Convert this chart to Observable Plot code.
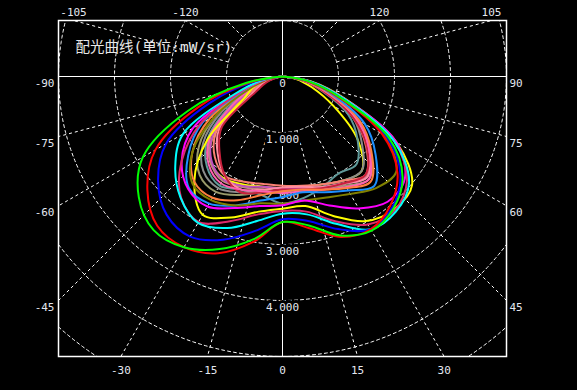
<!DOCTYPE html>
<html><head><meta charset="utf-8">
<script src="https://cdn.jsdelivr.net/npm/d3@7"></script>
<script src="https://cdn.jsdelivr.net/npm/@observablehq/plot@0.6"></script>
<style>html,body{margin:0;padding:0;background:#000;}#chart{width:577px;height:390px;overflow:hidden}</style>
</head><body><div id="chart"></div>
<script>
// polar angles (degrees, 0 = straight down) and intensity values (mW/sr)
const angles = [-90,-80,-70,-60,-50,-40,-30,-20,-10,0,10,20,30,40,50,60,70,80,90];
const greenCurve   = [0,0.65,1.80,2.88,3.35,3.58,3.52,3.28,2.95,2.60,2.70,3.02,3.18,3.08,2.80,2.20,1.10,0.45,0];
const redCurve     = [0,0.58,1.60,2.62,3.15,3.48,3.52,3.36,3.00,2.60,2.75,3.05,3.15,3.00,2.68,2.05,1.05,0.42,0];
const blueCurve    = [0,0.50,1.38,2.40,2.90,3.22,3.30,3.10,2.80,2.55,2.62,2.90,3.15,3.05,2.75,2.15,1.10,0.45,0];
const cyanCurve    = [0,0.35,0.90,2.05,2.50,2.83,3.02,2.88,2.62,2.45,2.50,2.80,3.15,3.15,2.95,2.30,1.18,0.50,0];
const magentaCurve = [0,0.30,0.80,1.85,2.35,2.62,2.68,2.50,2.35,2.30,2.25,2.45,2.72,2.92,2.85,2.35,1.20,0.50,0];
const yellowCurve  = [0,0.30,0.55,0.80,1.75,2.45,2.85,2.68,2.45,2.36,2.35,2.65,2.98,3.10,3.02,2.35,1.22,0.52,0];
const yellow2Curve = [0,0.25,0.50,0.90,1.60,2.00,2.10,2.05,2.00,2.00,2.00,2.05,2.15,2.20,1.75,1.05,0.55,0.25,0];
const crimsonCurve = [0,0.35,0.80,1.70,2.35,2.82,3.00,2.75,2.50,2.40,2.45,2.75,3.05,3.12,2.90,2.30,1.15,0.48,0];
const oliveCurve   = [0,0.25,0.60,1.35,2.10,2.50,2.55,2.45,2.30,2.27,2.25,2.30,2.42,2.60,2.65,2.10,1.05,0.40,0];
const dodgerCurve  = [0,0.30,0.70,1.65,2.20,2.60,2.62,2.45,2.25,2.15,2.10,2.20,2.35,2.55,2.17,1.70,0.95,0.40,0];
const coralCurve   = [0,0.28,0.65,1.50,2.10,2.45,2.50,2.35,2.15,2.05,2.05,2.15,2.30,2.45,2.07,1.60,0.90,0.38,0];
const khakiCurve   = [0,0.25,0.60,1.35,1.95,2.30,2.38,2.25,2.10,2.05,2.05,2.12,2.25,2.40,2.05,1.55,0.85,0.35,0];
const grayCurve    = [0,0.22,0.55,1.25,1.85,2.20,2.30,2.20,2.10,2.02,2.00,2.05,2.15,2.20,1.85,1.45,0.80,0.35,0];
const tealCurve    = [0,0.20,0.50,1.10,1.75,2.10,2.25,2.15,2.15,2.27,2.20,2.10,2.00,2.05,1.75,1.35,0.75,0.30,0];
const orchidCurve  = [0,0.18,0.45,0.95,1.62,1.97,2.12,2.08,2.00,2.00,2.02,2.10,2.20,2.35,2.00,1.50,0.80,0.35,0];
const salmonCurve  = [0,0.15,0.40,0.80,1.55,1.88,2.05,2.00,1.95,1.95,1.98,2.05,2.15,2.30,1.95,1.45,0.80,0.35,0];
const pinkCurve    = [0,0.12,0.35,0.65,1.48,1.80,2.05,2.15,2.05,1.98,2.00,2.10,2.20,2.35,2.00,1.50,0.80,0.35,0];
const darkredCurve = [0,0.10,0.30,0.55,1.42,1.75,2.05,2.20,2.10,2.02,2.05,2.12,2.20,2.30,1.97,1.45,0.78,0.33,0];
const rosyCurve    = [0,0.20,0.50,1.00,1.68,2.00,2.15,2.10,2.05,2.05,2.05,2.10,2.22,2.32,1.98,1.50,0.82,0.35,0];
const hotpinkCurve = [0,0.22,0.52,1.05,1.70,2.05,2.20,2.15,2.08,2.08,2.08,2.15,2.28,2.40,2.02,1.55,0.85,0.36,0];

// drawing order (first = bottom)
const curveColors = ["#ffff00","#5f9a9a","#8c8c8c","#9a9a6a","#c08a80","#c050c0","#fa8072","#ff8ca0","#c8203c","#ff60b0",
                     "#ffff00","#ff7f40","#1e90ff","#808000","#ff00ff","#dc2a6a","#00ffff","#0000ff","#ff0000","#00ff00"];
const curveValues = [yellow2Curve,tealCurve,grayCurve,khakiCurve,rosyCurve,orchidCurve,salmonCurve,pinkCurve,darkredCurve,hotpinkCurve,
                     yellowCurve,coralCurve,dodgerCurve,oliveCurve,magentaCurve,crimsonCurve,cyanCurve,blueCurve,redCurve,greenCurve];

// grid and tick labels
const gridRadii = [1,2,3,4,5,6,7];
const radialLabels = [0,1,2,3,4];
const gridAngles = [-165,-150,-135,-120,-105,-75,-60,-45,-30,-15,15,30,45,60,75,105,120,135,150,165];
const angleTicks = [-120,-105,-90,-75,-60,-45,-30,-15,0,15,30,45,60,75,90,105,120];
const title = "配光曲线(单位:mW/sr)";

const xDomain = [-4, 4], yDomain = [-1, 5];
const rad = a => a * Math.PI / 180;
const px = d => d.r * Math.sin(rad(d.a));
const py = d => d.r * Math.cos(rad(d.a));

function hitFrame(a) {
  const s = Math.sin(rad(a)), c = Math.cos(rad(a));
  let t = Infinity, side = null;
  if (s > 1e-9 && xDomain[1] / s < t) { t = xDomain[1] / s; side = "right"; }
  if (s < -1e-9 && xDomain[0] / s < t) { t = xDomain[0] / s; side = "left"; }
  if (c > 1e-9 && yDomain[1] / c < t) { t = yDomain[1] / c; side = "bottom"; }
  if (c < -1e-9 && yDomain[0] / c < t) { t = yDomain[0] / c; side = "top"; }
  return {a, x: t * s, y: t * c, side};
}

const circlePts = gridRadii.flatMap(r => d3.range(0, 360.5, 0.5).map(a => ({r, a})));
const radials = gridAngles.map(a => { const h = hitFrame(a); return {a, x1: Math.sin(rad(a)), y1: Math.cos(rad(a)), x2: h.x, y2: h.y}; });
const ticks = angleTicks.map(hitFrame);

const labelColor = "#e4e8f0";
const mono = "'DejaVu Sans Mono', monospace";
const tickStyle = {x: "x", y: "y", text: d => String(d.a), fill: labelColor, fontSize: 11, fontFamily: mono, lineAnchor: "middle"};

const grid = {stroke: "white", strokeWidth: 1, strokeDasharray: "3,3"};

const marks = [
  Plot.line(circlePts, {x: px, y: py, z: "r", ...grid, clip: true}),
  Plot.link(radials, {x1: "x1", y1: "y1", x2: "x2", y2: "y2", ...grid}),
  Plot.ruleX([0], {stroke: "white", strokeWidth: 1}),
  Plot.ruleY([0], {stroke: "white", strokeWidth: 1}),
  Plot.frame({stroke: "white", strokeWidth: 1.5}),
  Plot.text(ticks.filter(d => d.side === "left"), {...tickStyle, textAnchor: "end", dx: -4, dy: 7}),
  Plot.text(ticks.filter(d => d.side === "right"), {...tickStyle, textAnchor: "start", dx: 3, dy: 7}),
  Plot.text(ticks.filter(d => d.side === "bottom"), {...tickStyle, textAnchor: "middle", dy: 14}),
  Plot.text(ticks.filter(d => d.side === "top"), {...tickStyle, textAnchor: "middle", dy: -8}),
  Plot.text(radialLabels, {x: 0, y: d => d, text: d => d === 0 ? "0" : d.toFixed(3), fill: "black", stroke: "black", strokeWidth: 6, fontSize: 11, fontFamily: mono, dy: 7, lineAnchor: "middle"}),
  Plot.text(radialLabels, {x: 0, y: d => d, text: d => d === 0 ? "0" : d.toFixed(3), fill: labelColor, fontSize: 11, fontFamily: mono, dy: 7, lineAnchor: "middle"}),
  Plot.text([title], {frameAnchor: "top-left", text: d => d, dx: 17, dy: 27, textAnchor: "start", lineAnchor: "middle", fill: "#e8e8e8", fontSize: 14.5, fontFamily: "'DejaVu Sans Mono', 'Noto Sans CJK SC', sans-serif"}),
  ...curveValues.map((vals, i) => Plot.line(angles.map((a, j) => ({a, r: vals[j]})), {x: px, y: py, stroke: curveColors[i], strokeWidth: 2, curve: "catmull-rom"}))
];

const chart = Plot.plot({
  width: 577, height: 390,
  marginLeft: 58, marginRight: 71, marginTop: 20, marginBottom: 34,
  x: {domain: xDomain, axis: null},
  y: {domain: yDomain, reverse: true, axis: null},
  style: {background: "black", color: "white"},
  marks
});
document.getElementById("chart").appendChild(chart);
</script>
</body></html>
